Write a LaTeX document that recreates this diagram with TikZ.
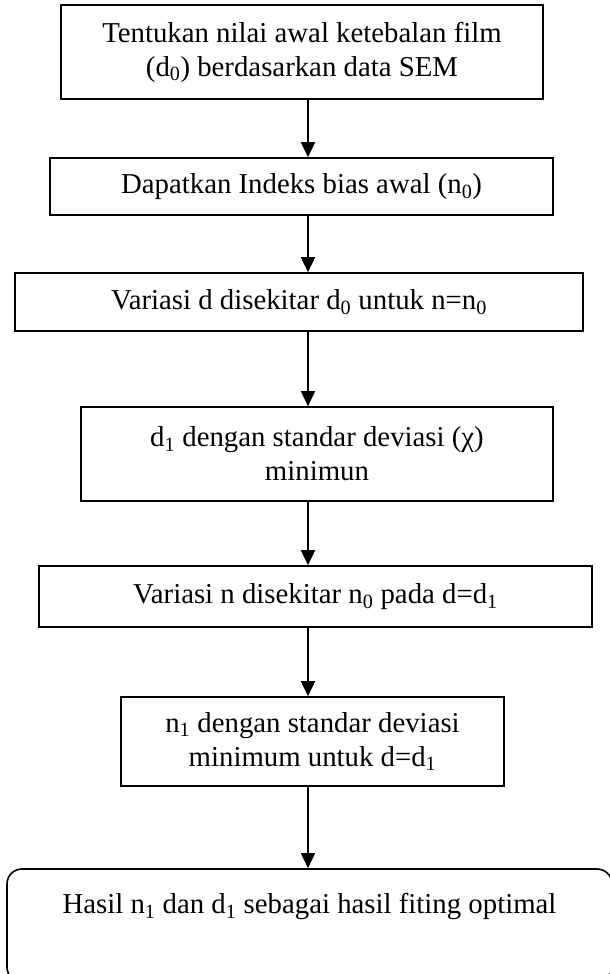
\documentclass[tikz,border=0pt]{standalone}
\usepackage{fontspec}
\setmainfont{Liberation Serif}
\usetikzlibrary{arrows.meta}
\usetikzlibrary{positioning}

\begin{document}
\begin{tikzpicture}[x=1pt,y=-1pt,
    box/.style={draw,line width=1.6pt,align=center,inner sep=0pt,
        font=\fontsize{28.8}{34}\selectfont},
    flow/.style={line width=1.6pt,-{Triangle[length=15pt,width=14pt]}}]
  \useasboundingbox (0,0) rectangle (610,974);
  \coordinate (ax) at (308,0);
  \node[box,minimum width=482pt,minimum height=94pt] (tentukan) at (302,52)
    {Tentukan nilai awal ketebalan film\\(d\textsubscript{0}) berdasarkan data SEM};
  \node[box,minimum width=503pt,minimum height=57pt] (dapatkan) at (301.5,186.5)
    {Dapatkan Indeks bias awal (n\textsubscript{0})};
  \node[box,minimum width=568pt,minimum height=58pt] (variasid) at (299,302)
    {Variasi d disekitar d\textsubscript{0} untuk n=n\textsubscript{0}};
  \node[box,minimum width=472pt,minimum height=94pt] (dsatu) at (317,454)
    {d\textsubscript{1} dengan standar deviasi (χ)\\minimun};
  \node[box,minimum width=553pt,minimum height=61pt] (variasin) at (315.5,596.5)
    {Variasi n disekitar n\textsubscript{0} pada d=d\textsubscript{1}};
  \node[box,minimum width=383pt,minimum height=89pt] (nsatu) at (312.5,741.5)
    {n\textsubscript{1} dengan standar deviasi\\minimum untuk d=d\textsubscript{1}};
  \node[box,rounded corners=15pt,minimum width=605pt,minimum height=113pt] (hasil) at (309.5,925.5)
    {Hasil n\textsubscript{1} dan d\textsubscript{1} sebagai hasil fiting optimal\\ \strut};
  % alur
  \draw[flow] (tentukan.south -| ax) -- (dapatkan.north -| ax);
  \draw[flow] (dapatkan.south -| ax) -- (variasid.north -| ax);
  \draw[flow] (variasid.south -| ax) -- (dsatu.north -| ax);
  \draw[flow] (dsatu.south -| ax) -- (variasin.north -| ax);
  \draw[flow] (variasin.south -| ax) -- (nsatu.north -| ax);
  \draw[flow] (nsatu.south -| ax) -- (hasil.north -| ax);
\end{tikzpicture}
\end{document}
